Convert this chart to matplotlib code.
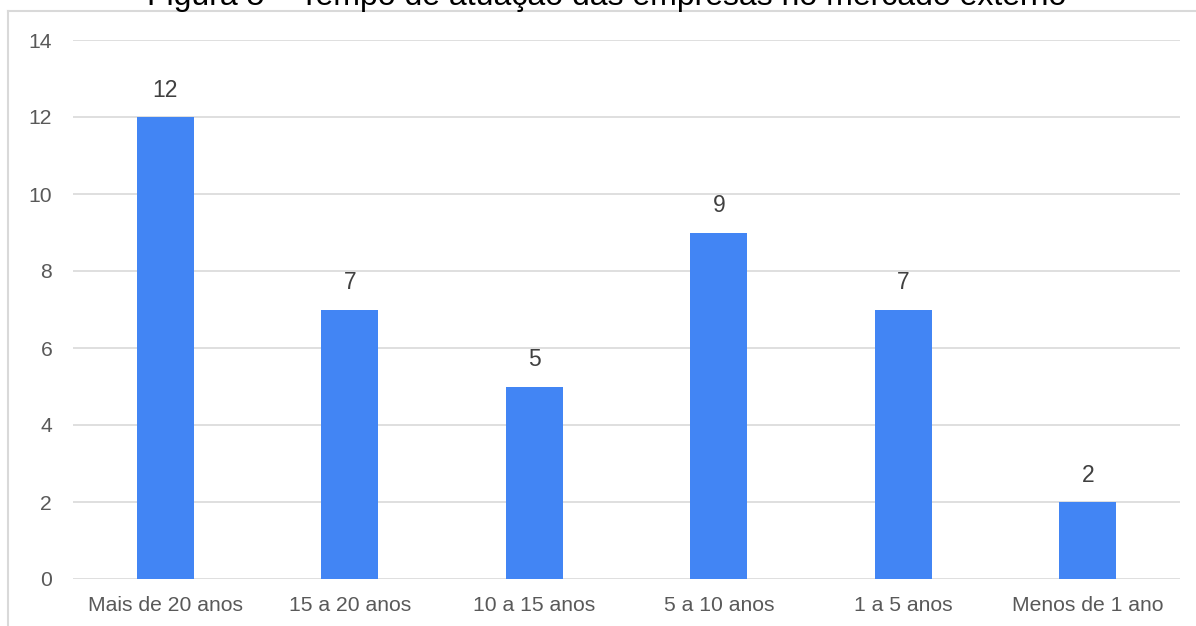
import matplotlib
matplotlib.use("Agg")
import matplotlib.pyplot as plt
from matplotlib.lines import Line2D

categories = ["Mais de 20 anos", "15 a 20 anos", "10 a 15 anos", "5 a 10 anos", "1 a 5 anos", "Menos de 1 ano"]
values = [12, 7, 5, 9, 7, 2]
yticks = [0, 2, 4, 6, 8, 10, 12, 14]
title = "Figura 5 – Tempo de atuação das empresas no mercado externo"

plt.rcParams['font.family'] = ['Liberation Sans', 'DejaVu Sans']

fig = plt.figure(figsize=(11.96, 6.26), dpi=100)
ax = fig.add_axes([73/1196, 47/626, (1180-73)/1196, (579-40)/626])

x = list(range(len(categories)))
bars = ax.bar(x, values, width=0.31, color="#4285F4", zorder=3)
for xi, v in zip(x, values):
    ax.annotate(str(v), (xi, v), xytext=(0, 11), textcoords="offset points",
                ha="center", va="bottom", fontsize=16.5, color="#404040")

ax.set_xlim(-0.5, len(categories) - 0.5)
ax.set_ylim(0, 14)
ax.set_yticks(yticks)
ax.set_xticks(x)
ax.set_xticklabels(categories)
ax.grid(axis="y", color="#D9D9D9", linewidth=1.2, zorder=0)
for s in ax.spines.values():
    s.set_visible(False)
ax.tick_params(axis="both", length=0, labelsize=15.2, labelcolor="#595959")
ax.tick_params(axis="y", pad=15)
ax.tick_params(axis="x", pad=12)

# frame lines
fig.add_artist(Line2D([8/1196, 8/1196], [0, 1 - 10.5/626], transform=fig.transFigure, color="#D9D9D9", lw=1.5))
fig.add_artist(Line2D([8/1196, 1], [1 - 10.5/626, 1 - 10.5/626], transform=fig.transFigure, color="#D9D9D9", lw=1.5))

fig.text(607/1196, 1 - 5/626, title, ha="center", va="baseline", fontsize=23, color="#000000")

fig.savefig("out.png", dpi=100)
